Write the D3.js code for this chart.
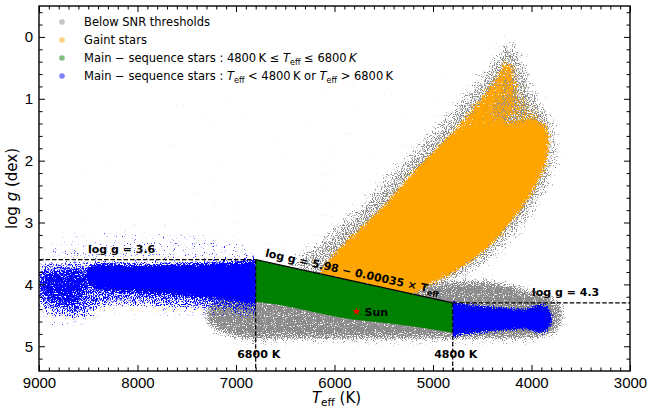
<!DOCTYPE html>
<meta charset="utf-8">
<style>
html, body {
  margin: 0;
  background: #fff;
}

.chart {
  display: block;
  font-family: "DejaVu Sans", sans-serif;
}

.chart .axis path {
  display: none;
}

.chart .axis line {
  stroke: #000;
  stroke-width: 1;
}

.chart .axis text {
  font-size: 15px;
  fill: #000;
}

.chart .frame {
  fill: none;
  stroke: #000;
  stroke-width: 1.4;
}

.chart .cut {
  fill: none;
  stroke: #000;
  stroke-width: 1.2;
}

.chart .cut.dashed {
  stroke-dasharray: 4.5, 2;
}

.chart .note {
  font-size: 11px;
  font-weight: bold;
}

.chart .legend text {
  font-size: 11.5px;
}
</style>
<body>
<svg class="chart js-chart" width="656" height="415"></svg>

<script src="https://d3js.org/d3.v7.min.js"></script>
<script type="text/javascript">
"use strict";

/* global d3 */

// axis ticks
var teffTicks = [9000, 8000, 7000, 6000, 5000, 4000, 3000];
var loggTicks = [0, 1, 2, 3, 4, 5];

// selection cuts
var teffCuts = [4800, 6800];
var loggCuts = [3.6, 4.3];
var cutLine = [5.98, 0.00035];   // log g = a - b * Teff
var sun = [5777, 4.44];

// cloud outlines [Teff, log g]
var greyField = [[7800, 1.0], [6300, 0.8], [4700, 0.0], [4250, 0.1], [4900, 1.6], [6400, 3.5], [8700, 3.5], [8950, 2.4]];
var greyHalo = [[4230, 0.05], [4380, 0.35], [4580, 0.75], [4820, 1.2], [5120, 1.7], [5480, 2.3], [5820, 2.85], [6150, 3.3],
  [6450, 3.7], [5100, 4.15], [4600, 3.8], [4250, 3.35], [3980, 2.8], [3780, 2.2], [3760, 1.6], [3820, 1.25], [3980, 0.85], [4100, 0.3]];
var greyMS = [[7250, 4.25], [6800, 4.2], [6000, 4.15], [5300, 4.1], [4800, 3.95], [4400, 3.95], [4000, 4.1], [3750, 4.25],
  [3680, 4.45], [3720, 4.72], [3900, 4.86], [4500, 4.89], [5500, 4.9], [6500, 4.89], [7000, 4.87], [7300, 4.6]];
var greyMix = [[4230, 0.45], [4120, 0.8], [3980, 1.3], [4200, 1.45], [4420, 1.3], [4330, 0.8]];
var orangeBlob = [[4750, 1.5], [4450, 1.42], [4150, 1.35], [3950, 1.35], [3850, 1.45], [3830, 1.7], [3850, 2.0], [3930, 2.3],
  [4050, 2.65], [4200, 2.95], [4380, 3.3], [4600, 3.6], [4850, 3.85], [5100, 4.05], [5250, 4.2], [5600, 4.05], [6000, 3.9],
  [6150, 3.85], [6050, 3.6], [5900, 3.35], [5700, 3.05], [5450, 2.65], [5200, 2.2], [4950, 1.8]];
var orangeBranch = [[4240, 0.38], [4180, 0.55], [4160, 0.9], [4200, 1.3], [4450, 1.55], [4780, 1.55], [4650, 1.25],
  [4500, 0.95], [4380, 0.7], [4300, 0.48]];
var orangeMix = [[4160, 0.7], [4060, 1.05], [3900, 1.35], [4150, 1.45], [4260, 1.1]];
var blueHalo = [[9000, 3.45], [6800, 3.45], [6800, 4.5], [7500, 4.5], [8400, 4.45], [8700, 4.75], [9000, 4.65]];
var blueHot = [[8995, 3.7], [8800, 3.65], [8500, 3.66], [7500, 3.66], [6750, 3.64], [6750, 4.45], [7200, 4.42],
  [7800, 4.36], [8300, 4.34], [8600, 4.55], [8800, 4.5], [8995, 4.35]];
var blueHotLeft = [[8990, 3.8], [8800, 3.75], [8560, 3.75], [8500, 4.1], [8650, 4.35], [8850, 4.3], [8990, 4.15]];
var blueHotCore = [[6650, 3.63], [7000, 3.65], [7500, 3.67], [8000, 3.69], [8480, 3.7], [8530, 3.85], [8480, 4.03],
  [8000, 4.12], [7500, 4.19], [7000, 4.26], [6650, 4.3]];
var blueCool = [[4900, 4.3], [4600, 4.34], [4300, 4.38], [4050, 4.4], [3980, 4.36], [3900, 4.32], [3830, 4.38],
  [3800, 4.55], [3830, 4.72], [3920, 4.78], [4050, 4.72], [4300, 4.74], [4600, 4.78], [4900, 4.82]];
var greenMS = [[6800, 3.6], [4800, 4.3], [4800, 4.78], [5000, 4.73], [5200, 4.68], [5500, 4.62], [5800, 4.57], [6000, 4.52],
  [6200, 4.45], [6400, 4.38], [6600, 4.32], [6800, 4.28]];

// legend
var legendLabels = [
  [{ t: "Below SNR thresholds" }],
  [{ t: "Gaint stars" }],
  [{ t: "Main \u2212 sequence stars : 4800\u2009K \u2264 " }, { t: "T", i: true }, { t: "eff", sub: true }, { t: " \u2264 6800\u2009" }, { t: "K", i: true }],
  [{ t: "Main \u2212 sequence stars : " }, { t: "T", i: true }, { t: "eff", sub: true }, { t: " < 4800\u2009K or " }, { t: "T", i: true }, { t: "eff", sub: true }, { t: " > 6800\u2009K" }]
];
var legendColors = ["#c4c4c4", "#ffd27f", "#7fbf7f", "#8080ff"];

var chart = {
  width: 656,
  height: 415,
  plot: { left: 39, right: 630, top: 6, bottom: 371 },

  init: function () {
    this.el = d3.select(".js-chart");
    this.defs = this.el.append("defs");

    this.x = d3.scaleLinear().domain([9000, 3000]).range([this.plot.left, this.plot.right]);
    this.y = d3.scaleLinear().domain([-0.5, 5.4]).range([this.plot.top, this.plot.bottom]);

    this.drawClouds();
    this.drawCuts();
    this.drawAxes();
    this.drawLegend();
  },

  // filter that turns a filled outline into a grainy point cloud
  speckle: function (id, color, blur, density, seed) {
    var f = this.defs.append("filter")
      .attr("id", id)
      .attr("filterUnits", "userSpaceOnUse")
      .attr("x", 0).attr("y", 0)
      .attr("width", this.width).attr("height", this.height)
      .attr("color-interpolation-filters", "sRGB");
    f.append("feGaussianBlur").attr("in", "SourceAlpha").attr("stdDeviation", blur).attr("result", "b");
    f.append("feTurbulence").attr("type", "fractalNoise").attr("baseFrequency", 0.9)
      .attr("numOctaves", 1).attr("seed", seed).attr("result", "n");
    f.append("feColorMatrix").attr("in", "n").attr("type", "matrix")
      .attr("values", "0 0 0 0 0  0 0 0 0 0  0 0 0 0 0  1 0 0 0 0").attr("result", "na");
    f.append("feComponentTransfer").attr("in", "na").attr("result", "ns")
      .append("feFuncA").attr("type", "linear").attr("slope", 2).attr("intercept", -0.5);
    f.append("feComposite").attr("in", "b").attr("in2", "ns").attr("operator", "arithmetic")
      .attr("k1", 0).attr("k2", density).attr("k3", 1).attr("k4", -1.02).attr("result", "m");
    f.append("feComponentTransfer").attr("in", "m").attr("result", "mt")
      .append("feFuncA").attr("type", "linear").attr("slope", 6).attr("intercept", 0);
    f.append("feFlood").attr("flood-color", color).attr("result", "c");
    f.append("feComposite").attr("in", "c").attr("in2", "mt").attr("operator", "in");
    return "url(#" + id + ")";
  },

  clip: function (id, pts) {
    this.defs.append("clipPath").attr("id", id)
      .append("path")
      .attr("d", this.poly(pts));
    return "url(#" + id + ")";
  },

  poly: function (pts) {
    var self = this;
    return d3.line().x(function (d) { return self.x(d[0]); }).y(function (d) { return self.y(d[1]); })
      .curve(d3.curveLinearClosed)(pts);
  },

  smooth: function (pts) {
    var self = this;
    return d3.line().x(function (d) { return self.x(d[0]); }).y(function (d) { return self.y(d[1]); })
      .curve(d3.curveCatmullRomClosed.alpha(0.5))(pts);
  },

  drawClouds: function () {
    var self = this, lo = teffCuts[0], hi = teffCuts[1];
    var plotClip = this.clip("clip-plot", [[9000, -0.5], [3000, -0.5], [3000, 5.4], [9000, 5.4]]);
    var giantClip = this.clip("clip-giant", [[9000, -0.5], [9000, loggCuts[0]], [hi, loggCuts[0]], [lo, loggCuts[1]],
      [3000, loggCuts[1]], [3000, -0.5]]);
    var msClip = this.clip("clip-ms", [[hi, loggCuts[0]], [lo, loggCuts[1]], [lo, 5.4], [hi, 5.4]]);
    var hotClip = this.clip("clip-hot", [[9000, -0.5], [hi, -0.5], [hi, 5.4], [9000, 5.4]]);
    var coolClip = this.clip("clip-cool", [[lo, -0.5], [3000, -0.5], [3000, 5.4], [lo, 5.4]]);

    var layers = [
      { pts: greyField, color: "#b0b0b0", blur: 6, density: 0.06, seed: 11, clip: plotClip },
      { pts: greyHalo, color: "#8c8c8c", blur: 6, density: 0.6, seed: 3, clip: plotClip },
      { pts: greyMS, color: "#8c8c8c", blur: 4, density: 0.9, seed: 5, clip: plotClip },
      { pts: blueHalo, color: "#3030ff", blur: 6, density: 0.22, seed: 19, clip: hotClip },
      { pts: orangeBlob, color: "#ffa500", blur: 3, density: 1.3, seed: 7, clip: giantClip },
      { pts: orangeBranch, color: "#ffa500", blur: 3, density: 0.95, seed: 21, clip: giantClip },
      { pts: orangeMix, color: "#ffa500", blur: 4, density: 0.6, seed: 23, clip: giantClip },
      { pts: greyMix, color: "#8c8c8c", blur: 4, density: 0.45, seed: 9, clip: giantClip },
      { pts: greenMS, color: "#008000", clip: msClip, plain: true },
      { pts: blueHot, color: "#0000ff", blur: 5, density: 0.62, seed: 13, clip: hotClip },
      { pts: blueHotLeft, color: "#0000ff", blur: 5, density: 0.85, seed: 25, clip: hotClip },
      { pts: blueHotCore, color: "#0000ff", blur: 3, density: 1.3, seed: 15, clip: hotClip },
      { pts: blueCool, color: "#0000ff", blur: 2.5, density: 1.3, seed: 17, clip: coolClip }
    ];

    var g = this.el.append("g").attr("class", "clouds");
    layers.forEach(function (l, i) {
      var lg = g.append("g").attr("clip-path", l.clip);
      if (l.plain) {
        lg.append("path").attr("d", self.poly(l.pts)).attr("fill", l.color);
      } else {
        lg.append("path").attr("d", self.smooth(l.pts)).attr("fill", l.color)
          .attr("filter", self.speckle("sp" + i, l.color, l.blur, l.density, l.seed));
      }
    });
  },

  drawCuts: function () {
    var x = this.x, y = this.y, lo = teffCuts[0], hi = teffCuts[1];
    var g = this.el.append("g").attr("class", "cuts");
    var fit = function (t) { return cutLine[0] - cutLine[1] * t; };

    var dashed = [
      [[9000, loggCuts[0]], [hi, loggCuts[0]]],
      [[lo, loggCuts[1]], [3000, loggCuts[1]]],
      [[hi, loggCuts[0]], [hi, 5.4]],
      [[lo, loggCuts[1]], [lo, 5.4]]
    ];
    g.selectAll(".dashed").data(dashed).enter().append("line")
      .attr("class", "cut dashed")
      .attr("x1", function (d) { return x(d[0][0]); })
      .attr("y1", function (d) { return y(d[0][1]); })
      .attr("x2", function (d) { return x(d[1][0]); })
      .attr("y2", function (d) { return y(d[1][1]); });

    g.append("line").attr("class", "cut")
      .attr("x1", x(hi)).attr("y1", y(fit(hi)))
      .attr("x2", x(lo)).attr("y2", y(fit(lo)));

    g.append("path")
      .attr("transform", "translate(" + x(sun[0]) + "," + y(sun[1]) + ")")
      .attr("d", d3.symbol().type(d3.symbolStar).size(20)())
      .attr("fill", "red");

    g.append("text").attr("class", "note").attr("x", 88).attr("y", 253).text("log g = 3.6");
    g.append("text").attr("class", "note").attr("x", 532).attr("y", 296).text("log g = 4.3");
    g.append("text").attr("class", "note").attr("x", x(hi) + 3).attr("y", 358)
      .attr("text-anchor", "middle").text("6800 K");
    g.append("text").attr("class", "note").attr("x", x(lo) + 3).attr("y", 358)
      .attr("text-anchor", "middle").text("4800 K");
    g.append("text").attr("class", "note").attr("x", x(sun[0]) + 8).attr("y", y(sun[1]) + 4).text("Sun");

    var ang = Math.atan2(y(fit(lo)) - y(fit(hi)), x(lo) - x(hi)) * 180 / Math.PI;
    var t0 = 6720;
    var fl = g.append("text").attr("class", "note").attr("font-size", "11.5px")
      .attr("transform", "translate(" + x(t0) + "," + y(fit(t0)) + ") rotate(" + ang + ") translate(0,-5)");
    fl.append("tspan").text("log g = 5.98 \u2212 0.00035 \u00d7 T");
    fl.append("tspan").attr("dy", 3).attr("font-size", "8px").text("eff");
  },

  drawAxes: function () {
    var x = this.x, y = this.y, p = this.plot;
    var teffMinor = d3.range(3000, 9001, 100).filter(function (v) { return v % 1000 !== 0; });
    var loggMinor = d3.range(-4, 54, 2).map(function (v) { return v / 10; })
      .filter(function (v) { return Math.abs(v - Math.round(v)) > 1e-6; });

    var specs = [
      { axis: d3.axisBottom, scale: x, pos: "translate(0," + p.bottom + ")", major: teffTicks, minor: teffMinor, labels: true },
      { axis: d3.axisTop, scale: x, pos: "translate(0," + p.top + ")", major: teffTicks, minor: teffMinor, labels: false },
      { axis: d3.axisLeft, scale: y, pos: "translate(" + p.left + ",0)", major: loggTicks, minor: loggMinor, labels: true },
      { axis: d3.axisRight, scale: y, pos: "translate(" + p.right + ",0)", major: loggTicks, minor: loggMinor, labels: false }
    ];

    var el = this.el;
    specs.forEach(function (s) {
      el.append("g").attr("class", "axis").attr("transform", s.pos)
        .call(s.axis(s.scale).tickValues(s.minor).tickSize(-3.5).tickFormat(""));
      el.append("g").attr("class", "axis").attr("transform", s.pos)
        .call(s.axis(s.scale).tickValues(s.major).tickSize(-6).tickPadding(6)
          .tickFormat(s.labels ? d3.format("d") : ""));
    });

    el.append("rect").attr("class", "frame")
      .attr("x", p.left).attr("y", p.top)
      .attr("width", p.right - p.left).attr("height", p.bottom - p.top);

    var xl = el.append("text").attr("x", (p.left + p.right) / 2 + 2).attr("y", 403)
      .attr("text-anchor", "middle").attr("font-size", "15px");
    xl.append("tspan").attr("font-style", "italic").text("T");
    xl.append("tspan").attr("dy", 3).attr("font-size", "10.5px").text("eff");
    xl.append("tspan").attr("dy", -3).text(" (K)");

    var yl = el.append("text")
      .attr("transform", "translate(17," + (p.top + p.bottom) / 2 + ") rotate(-90)")
      .attr("text-anchor", "middle").attr("font-size", "15px");
    yl.append("tspan").text("log ");
    yl.append("tspan").attr("font-style", "italic").text("g");
    yl.append("tspan").text(" (dex)");
  },

  drawLegend: function () {
    var g = this.el.append("g").attr("class", "legend");
    var rows = g.selectAll(".row").data(legendLabels).enter().append("g")
      .attr("class", "row")
      .attr("transform", function (d, i) { return "translate(62," + (26 + i * 18) + ")"; });

    rows.append("circle").attr("cx", 0).attr("cy", -4).attr("r", 2.8)
      .attr("fill", function (d, i) { return legendColors[i]; });

    var txt = rows.append("text").attr("x", 22);
    txt.each(function (segs) {
      var t = d3.select(this), shifted = false;
      segs.forEach(function (s) {
        var sp = t.append("tspan").text(s.t);
        if (s.i) sp.attr("font-style", "italic");
        if (s.sub) {
          sp.attr("dy", 2.5).attr("font-size", "8px");
          shifted = true;
        } else if (shifted) {
          sp.attr("dy", -2.5);
          shifted = false;
        }
      });
    });
  }
};

chart.init();
</script>
</body>
